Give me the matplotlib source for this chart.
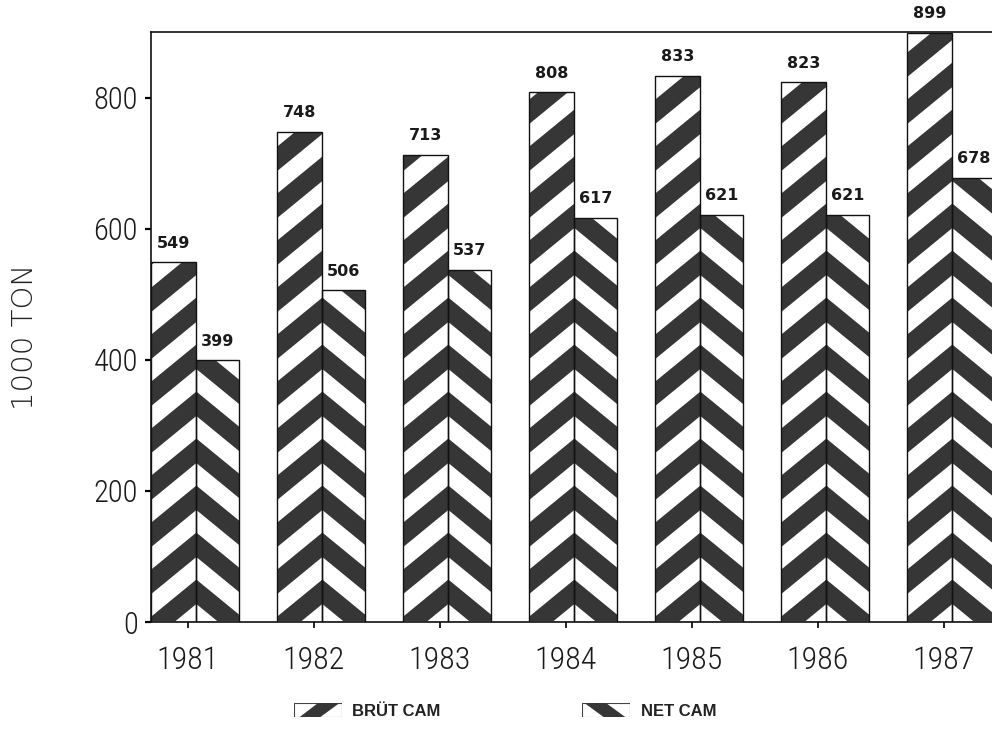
import matplotlib
matplotlib.use("Agg")
import matplotlib.pyplot as plt
from matplotlib.patches import Polygon, Rectangle
from matplotlib import font_manager as fm
import numpy as np

# ---- data ----
years = [1981, 1982, 1983, 1984, 1985, 1986, 1987]
brut_cam = [549, 748, 713, 808, 833, 823, 899]
net_cam = [399, 506, 537, 617, 621, 621, 678]
yticks = [0, 200, 400, 600, 800]
ylabel = "1000 TON"
legend_labels = ["BRÜT CAM", "NET CAM"]

# ---- font choice ----
avail = {}
for f in fm.fontManager.ttflist:
    if f.style == "normal":
        avail.setdefault(f.name, set()).add(int(f.weight) if str(f.weight).isdigit() else 400)


def pick(cands, fallback):
    for name in cands:
        if name in avail:
            w = 300 if 300 in avail[name] else 400
            return name, w
    return fallback, 400


narrow, narrow_w = pick(["Roboto Condensed", "Barlow Condensed", "Archivo Narrow",
                         "PT Sans Narrow", "Pragati Narrow", "Liberation Sans Narrow"], "Liberation Sans")

DARK = "#363636"
W, H = 992, 736
fig = plt.figure(figsize=(W / 100, H / 100), dpi=100)

# axes: left spine at px 151, bottom at px 622, top at px 32, right spine beyond image
ax_left, ax_right = 151, 1040
ax_top, ax_bot = 32, 622
ax = fig.add_axes([ax_left / W, (H - ax_bot) / H, (ax_right - ax_left) / W, (ax_bot - ax_top) / H])

off = 0.07
wb, wn = 0.36, 0.34
x = np.array(years, dtype=float)
xb = x + off  # boundary between the two bars of a group

ax.set_xlim(xb[0] - wb, xb[0] - wb + (ax_right - ax_left) / 126.0)
ax.set_ylim(0, 900)

bars_b = ax.bar(xb, brut_cam, width=-wb, align="edge", color="white", edgecolor="none", zorder=2)
bars_n = ax.bar(xb, net_cam, width=wn, align="edge", color="white", edgecolor="none", zorder=2)

# pixel scale factors
p0 = ax.transData.transform((0, 0))
p1 = ax.transData.transform((1, 1))
sx, sy = p1[0] - p0[0], p1[1] - p0[1]

P = 47.0      # vertical stripe period in px
slope = 0.82  # stripe slope in px/px
phase = 18.0


def stripes(rect, xbound, direction):
    x0, x1 = rect.get_x(), rect.get_x() + rect.get_width()
    x0, x1 = min(x0, x1), max(x0, x1)
    h = rect.get_height()
    X0 = (x0 - xbound) * sx
    X1 = (x1 - xbound) * sx
    Hpx = h * sy
    umin = -abs(slope) * 60 - P
    umax = Hpx + abs(slope) * 60 + P
    k0 = int(np.floor((umin - phase) / P))
    k1 = int(np.ceil((umax - phase) / P))
    for k in range(k0, k1 + 1):
        ua = phase + k * P
        ub = ua + P * 0.52
        if direction > 0:
            ya0, ya1 = ua + slope * X0, ua + slope * X1
            yb0, yb1 = ub + slope * X0, ub + slope * X1
        else:
            ya0, ya1 = ua - slope * X0, ua - slope * X1
            yb0, yb1 = ub - slope * X0, ub - slope * X1
        verts = [(x0, ya0 / sy), (x1, ya1 / sy), (x1, yb1 / sy), (x0, yb0 / sy)]
        poly = Polygon(verts, closed=True, facecolor=DARK, edgecolor="none", zorder=3)
        ax.add_patch(poly)
        poly.set_clip_path(rect)


for rect, b in zip(bars_b, xb):
    stripes(rect, b, +1)
for rect, b in zip(bars_n, xb):
    stripes(rect, b, -1)

ax.bar(xb, brut_cam, width=-wb, align="edge", fill=False, edgecolor="#111111", linewidth=1.0, zorder=4)
ax.bar(xb, net_cam, width=wn, align="edge", fill=False, edgecolor="#111111", linewidth=1.0, zorder=4)

# value labels
for xc, v in zip(xb - wb / 2, brut_cam):
    ax.annotate(str(v), (xc, v), xytext=(0, 10.5), textcoords="offset points",
                ha="center", va="baseline", fontsize=11.5, family="DejaVu Sans",
                fontweight="bold", color="#1a1a1a", annotation_clip=False, zorder=6)
for xc, v in zip(xb + wn / 2, net_cam):
    ax.annotate(str(v), (xc, v), xytext=(0, 10.5), textcoords="offset points",
                ha="center", va="baseline", fontsize=11.5, family="DejaVu Sans",
                fontweight="bold", color="#1a1a1a", annotation_clip=False, zorder=6)

# axes styling
ax.set_xticks(years)
ax.set_xticklabels([str(y) for y in years], family=narrow, fontweight=narrow_w,
                   fontsize=23, color="#1a1a1a")
ax.set_yticks(yticks)
ax.set_yticklabels([str(t) for t in yticks], family=narrow, fontweight=narrow_w,
                   fontsize=22, color="#1a1a1a")
ax.tick_params(axis="x", direction="out", length=4, width=1.2, pad=13)
ax.tick_params(axis="y", direction="out", length=4.5, width=1.6, pad=5)
for s in ["left", "bottom", "top", "right"]:
    ax.spines[s].set_linewidth(1.2)
    ax.spines[s].set_color("#111111")

fig.text(25 / W, (H - 337) / H, ylabel, rotation=90, ha="center", va="center",
         family="DejaVu Sans", fontsize=21, color="#222222", fontweight="light")


# legend
def swatch(xpx, direction):
    la = fig.add_axes([xpx / W, (H - 717) / H, 48 / W, 14 / H])
    la.set_xlim(0, 1)
    la.set_ylim(0, 1)
    la.axis("off")
    la.add_patch(Rectangle((0, 0), 1, 1, facecolor="white", edgecolor="#444444", linewidth=0.8))
    if direction > 0:
        verts = [(0.12, 0), (0.55, 0), (0.95, 1), (0.5, 1)]
    else:
        verts = [(0.05, 1), (0.5, 1), (0.9, 0), (0.45, 0)]
    la.add_patch(Polygon(verts, closed=True, facecolor=DARK, edgecolor="none"))


swatch(294, +1)
swatch(582, -1)
fig.text(352 / W, (H - 711) / H, legend_labels[0], ha="left", va="center",
         family="Liberation Sans", fontweight="bold", fontsize=12, color="#222222")
fig.text(641 / W, (H - 711) / H, legend_labels[1], ha="left", va="center",
         family="Liberation Sans", fontweight="bold", fontsize=12, color="#222222")

fig.savefig("out.png", dpi=100)
